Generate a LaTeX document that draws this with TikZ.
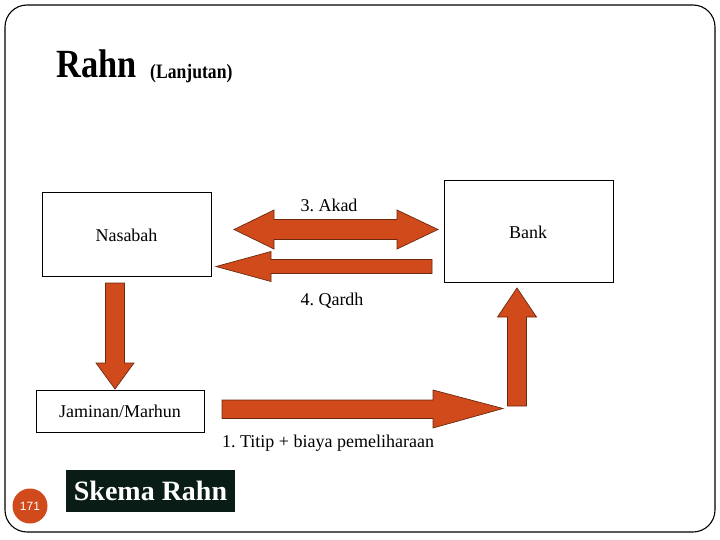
\documentclass[tikz,border=0pt]{standalone}
\usepackage{fontspec}
\setmainfont{Liberation Serif}
\newfontfamily\numfont{Liberation Sans}
\newfontfamily\titlefont[FakeStretch=0.86]{Liberation Serif Bold}
\definecolor{arrowfill}{HTML}{D04A1C}
\definecolor{arrowline}{HTML}{6A2A10}
\definecolor{darkbox}{HTML}{0A1C16}
\frenchspacing
\tikzset{
  box/.style={draw=black, line width=0.9pt, fill=white},
  blockarrow/.style={fill=arrowfill, draw=arrowline, line width=0.7pt, line join=miter},
  lbl/.style={inner sep=0pt, font=\fontsize{18}{20}\selectfont}
}
\begin{document}
\begin{tikzpicture}[x=1pt,y=-1pt]
\useasboundingbox (0,0) rectangle (720,540);
% slide frame
\draw[line width=1.1pt, rounded corners=22pt] (5,5) rectangle (715,532);
% title
\node[anchor=base west, inner sep=0pt, font=\titlefont\fontsize{40}{44}\selectfont] (title) at (56,78) {Rahn};
\node[anchor=base west, inner sep=0pt, font=\titlefont\fontsize{20.5}{22}\selectfont] (subtitle) at (150,78.5) {(Lanjutan)};
% boxes
\draw[box] (42,192) rectangle (211,276);
\node[lbl] (nasabah) at (126.5,235) {Nasabah};
\draw[box] (444,180) rectangle (613,282);
\node[lbl] (bank) at (528,232) {Bank};
\draw[box] (36,390) rectangle (204,432);
\node[lbl] (jaminan) at (120,411) {Jaminan/Marhun};
% block arrows
\draw[blockarrow] (234,229.5) -- (274,210) -- (274,219.5) -- (397,219.5) -- (397,210) -- (438,229.5) -- (397,249) -- (397,239.5) -- (274,239.5) -- (274,249) -- cycle;
\draw[blockarrow] (216,266.5) -- (271,251.5) -- (271,259.5) -- (432,259.5) -- (432,273.5) -- (271,273.5) -- (271,281.5) -- cycle;
\draw[blockarrow] (105.5,283) -- (124.5,283) -- (124.5,363) -- (134,363) -- (115,389) -- (96,363) -- (105.5,363) -- cycle;
\draw[blockarrow] (222,400) -- (433,400) -- (433,390) -- (503,408.5) -- (433,428) -- (433,418.5) -- (222,418.5) -- cycle;
\draw[blockarrow] (507.5,406) -- (526.5,406) -- (526.5,317) -- (536.5,317) -- (517,288) -- (497.5,317) -- (507.5,317) -- cycle;
% arrow labels
\node[lbl] (akad) at (329,205) {3. Akad};
\node[lbl] (qardh) at (332,301) {4. Qardh};
\node[lbl] (titip) at (328,443) {1. Titip + biaya pemeliharaan};
% footer
\node[fill=darkbox, minimum width=169pt, minimum height=41.5pt, inner sep=0pt, text=white, font=\bfseries\fontsize{28}{30}\selectfont] (skema) at (150.5,491) {Skema Rahn};
\node[circle, fill=arrowfill, minimum size=35pt, inner sep=0pt, text=white, font=\numfont\fontsize{12}{14}\selectfont] (page) at (30,506) {171};
\end{tikzpicture}
\end{document}
